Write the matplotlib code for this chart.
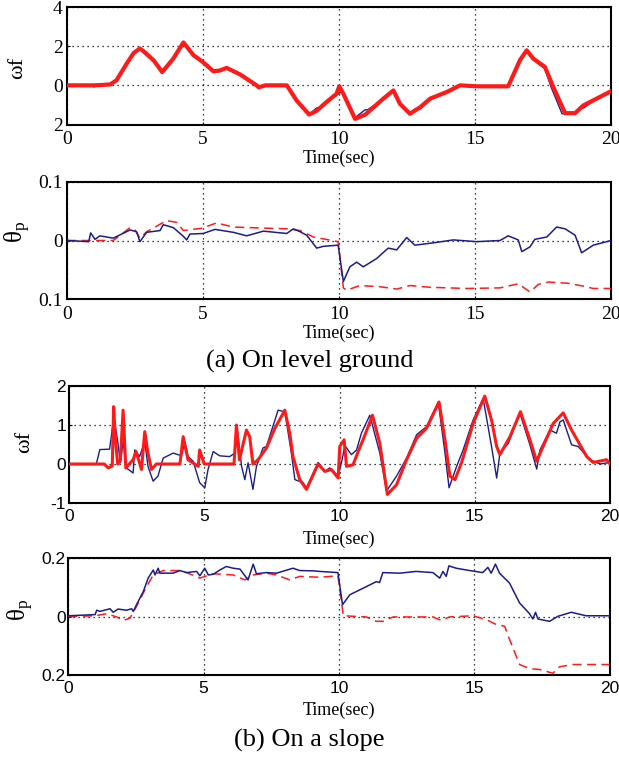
import matplotlib
matplotlib.use("Agg")
import matplotlib.pyplot as plt
from matplotlib.ticker import FixedLocator, FixedFormatter

# ---------------- data ----------------
# (a) level ground, omega_f
t1r = [0, 1.0, 1.3, 1.6, 1.82, 2.19, 2.45, 2.68, 2.9, 3.2, 3.5, 3.9, 4.28, 4.65, 4.99, 5.38, 5.6, 5.87, 6.36, 6.97, 7.05, 7.3, 8.08, 8.44, 8.9, 9.18, 9.5, 9.91, 10.01, 10.16, 10.59, 10.96, 11.63, 12.0, 12.24, 12.61, 13.0, 13.35, 13.96, 14.45, 15.06, 16.22, 16.65, 16.9, 17.14, 17.57, 17.88, 18.31, 18.68, 18.98, 19.47, 20.0]
v1r = [0, 0, 0.02, 0.05, 0.26, 1.1, 1.65, 1.88, 1.65, 1.25, 0.68, 1.35, 2.19, 1.54, 1.2, 0.72, 0.75, 0.89, 0.56, 0, -0.1, 0, 0, -0.77, -1.49, -1.3, -0.9, -0.43, -0.05, -0.43, -1.71, -1.5, -0.68, -0.26, -0.94, -1.45, -1.1, -0.68, -0.34, 0, -0.05, -0.05, 1.28, 1.79, 1.37, 0.94, -0.09, -1.42, -1.42, -1.03, -0.68, -0.3]
t1b = [0, 0.9, 1.0, 1.1, 1.3, 1.5, 1.82, 2.19, 2.45, 2.68, 2.9, 3.2, 3.5, 3.9, 4.28, 4.65, 4.99, 5.38, 5.6, 5.87, 6.36, 6.97, 7.05, 7.3, 8.08, 8.44, 8.9, 9.18, 9.3, 9.5, 9.91, 10.05, 10.2, 10.59, 10.96, 11.05, 11.63, 12.0, 12.24, 12.61, 12.8, 13.0, 13.35, 13.96, 14.45, 15.06, 16.22, 16.6, 16.9, 17.14, 17.57, 17.8, 18.2, 18.68, 18.85, 19.0, 19.47, 20.0]
v1b = [0, 0, -0.08, 0.05, 0.0, 0.03, 0.3, 1.15, 1.7, 1.85, 1.55, 1.2, 0.62, 1.3, 2.15, 1.5, 1.15, 0.7, 0.72, 0.85, 0.55, 0, -0.1, 0, 0, -0.85, -1.5, -1.15, -1.2, -0.95, -0.5, -0.35, -0.5, -1.65, -1.25, -1.25, -0.7, -0.3, -0.9, -1.45, -1.2, -1.2, -0.72, -0.35, 0.02, -0.05, -0.05, 1.2, 1.75, 1.3, 0.85, -0.1, -1.45, -1.45, -1.15, -1.15, -0.7, -0.3]

# (a) level ground, theta_p
t2b = [0, 0.8, 0.87, 1.03, 1.21, 1.7, 2.32, 2.56, 2.68, 2.93, 3.42, 3.54, 3.91, 4.28, 4.4, 4.52, 5.01, 5.44, 6.11, 6.61, 7.22, 8.08, 8.32, 8.57, 8.81, 9.18, 9.42, 9.97, 10.16, 10.4, 10.65, 10.89, 11.38, 11.81, 12.12, 12.49, 12.79, 13.47, 14.2, 15.06, 15.92, 16.22, 16.59, 16.72, 17.02, 17.2, 17.64, 18.0, 18.31, 18.68, 18.92, 19.35, 20.0]
v2b = [0, -0.002, 0.013, 0.002, 0.008, 0.004, 0.018, 0.015, -0.002, 0.014, 0.017, 0.027, 0.022, 0.007, 0.001, 0.011, 0.012, 0.019, 0.014, 0.008, 0.016, 0.012, 0.02, 0.015, 0.009, -0.013, -0.01, -0.008, -0.07, -0.045, -0.037, -0.045, -0.031, -0.013, -0.016, 0.005, -0.008, -0.004, 0.001, -0.002, 0, 0.008, 0.001, -0.019, -0.011, 0.002, 0.006, 0.023, 0.02, 0.009, -0.021, -0.008, 0.0]
t2r = [0, 1.7, 2.32, 2.5, 2.68, 2.93, 3.66, 4.03, 4.28, 4.96, 5.5, 6.11, 7.34, 8.08, 8.57, 9.06, 9.97, 10.16, 10.28, 10.77, 11.5, 12.12, 12.61, 13.35, 14.69, 15.92, 16.59, 17.02, 17.33, 17.7, 18.4, 18.98, 19.35, 20.0]
v2r = [0, 0, 0.022, 0.018, 0.004, 0.015, 0.034, 0.031, 0.017, 0.021, 0.03, 0.023, 0.021, 0.02, 0.017, 0.006, -0.002, -0.081, -0.085, -0.077, -0.079, -0.083, -0.077, -0.08, -0.082, -0.081, -0.074, -0.088, -0.075, -0.071, -0.073, -0.078, -0.082, -0.082]

# (b) slope, omega_f
t3b = [0, 1.01, 1.14, 1.5, 1.66, 1.81, 1.9, 2.0, 2.12, 2.37, 2.43, 2.61, 2.8, 2.92, 3.11, 3.29, 3.48, 3.85, 4.16, 4.28, 4.4, 4.59, 4.83, 5.02, 5.14, 5.33, 5.57, 5.94, 6.13, 6.21, 6.38, 6.5, 6.62, 6.8, 6.93, 7.17, 7.3, 7.73, 7.98, 8.22, 8.35, 8.65, 8.78, 9.21, 9.46, 9.64, 9.95, 10.07, 10.2, 10.44, 10.63, 10.81, 11.12, 11.49, 11.74, 12.11, 12.48, 12.85, 13.22, 13.65, 13.9, 14.05, 14.33, 14.57, 14.94, 15.31, 15.62, 15.81, 15.93, 16.24, 16.67, 17.04, 17.29, 17.41, 17.78, 18.02, 18.15, 18.27, 18.58, 18.82, 19.26, 19.63, 19.9, 20.0]
v3b = [0, 0, 0.37, 0.38, 1.21, 0.53, 0.03, 0.58, -0.1, -0.23, 0.36, 0.19, 0.58, -0.06, -0.44, -0.31, 0.15, 0.28, 0.21, 0.58, 0.19, 0.07, -0.48, -0.61, -0.14, 0.32, 0.21, 0.19, 0.28, 0.96, -0.06, -0.4, 0.03, -0.65, -0.06, 0.41, 0.45, 1.38, 1.34, 0.28, -0.4, -0.48, -0.61, 0.04, -0.19, -0.1, -0.31, 0.03, 0.47, 0.24, 0.36, 0.79, 1.25, 0.28, -0.69, -0.31, 0.15, 0.75, 0.96, 1.59, 0.28, -0.61, -0.06, 0.36, 1.13, 1.68, 0.45, -0.36, 0.28, 0.53, 1.3, 0.49, -0.13, 0.36, 0.87, 0.79, 1.08, 1.13, 0.49, 0.45, 0.11, 0, 0.03, 0]
t3r = [0, 1.3, 1.45, 1.6, 1.65, 1.72, 1.8, 1.9, 2.0, 2.1, 2.37, 2.48, 2.68, 2.8, 2.92, 3.05, 3.23, 3.6, 4.1, 4.22, 4.4, 4.78, 4.83, 5.0, 6.1, 6.19, 6.3, 6.56, 6.68, 6.8, 6.99, 7.3, 7.6, 7.98, 8.16, 8.28, 8.53, 8.78, 9.21, 9.46, 9.7, 9.95, 10.01, 10.17, 10.26, 10.5, 10.69, 10.87, 11.22, 11.49, 11.77, 12.11, 12.48, 12.85, 13.22, 13.68, 13.9, 14.08, 14.27, 14.51, 14.94, 15.37, 15.62, 15.81, 15.93, 16.3, 16.69, 17.04, 17.29, 17.47, 17.9, 18.27, 18.58, 19.14, 19.38, 19.87, 20.0]
v3r = [0, 0, -0.1, -0.05, 1.47, 0.6, 0.0, 0.1, 1.38, -0.1, 0.11, 0.32, -0.14, 0.83, 0.28, -0.14, 0, 0, 0, 0.7, 0.11, -0.06, 0.36, 0, 0, 1.0, 0.11, 0.87, 0.7, 0, 0.11, 0.41, 0.9, 1.38, 0.79, 0.19, -0.4, -0.65, 0, -0.19, -0.14, -0.36, 0.45, 0.62, -0.06, -0.02, 0.32, 0.62, 1.25, 0.53, -0.78, -0.53, 0.11, 0.66, 0.92, 1.59, 0.62, -0.31, -0.4, 0.03, 1.04, 1.74, 1.13, 0.45, 0.24, 0.7, 1.34, 0.62, 0.07, 0.36, 1.04, 1.31, 0.87, 0.19, 0.04, 0.11, 0]

# (b) slope, theta_p
t4b = [0, 0.99, 1.05, 1.17, 1.54, 1.66, 1.84, 2.15, 2.34, 2.4, 2.52, 2.77, 2.95, 3.14, 3.2, 3.32, 3.38, 3.87, 4.12, 4.37, 4.74, 4.86, 5.04, 5.17, 5.35, 5.6, 5.84, 6.09, 6.34, 6.64, 6.83, 6.95, 7.32, 7.69, 8.3, 8.55, 9.05, 9.29, 9.96, 10.13, 10.4, 11.01, 11.38, 11.5, 11.62, 12.24, 12.85, 13.47, 13.72, 13.84, 13.96, 14.06, 14.33, 14.7, 15.31, 15.5, 15.62, 15.78, 15.93, 16.3, 16.67, 17.04, 17.16, 17.26, 17.35, 17.78, 18.08, 18.58, 19.13, 20.0]
v4b = [0.003, 0.007, 0.022, 0.018, 0.027, 0.015, 0.026, 0.022, 0.027, 0.018, 0.041, 0.086, 0.132, 0.16, 0.143, 0.166, 0.149, 0.149, 0.158, 0.151, 0.155, 0.14, 0.166, 0.143, 0.145, 0.16, 0.172, 0.166, 0.163, 0.126, 0.18, 0.147, 0.151, 0.149, 0.166, 0.158, 0.157, 0.155, 0.151, 0.041, 0.075, 0.103, 0.12, 0.117, 0.151, 0.149, 0.155, 0.151, 0.132, 0.155, 0.138, 0.174, 0.166, 0.16, 0.151, 0.169, 0.149, 0.18, 0.149, 0.115, 0.047, 0.01, -0.008, 0.015, -0.008, -0.016, 0.001, 0.015, 0.003, 0.003]
t4r = [0, 0.99, 1.41, 1.79, 2.03, 2.28, 2.52, 2.89, 3.14, 3.51, 4.12, 4.37, 4.86, 5.35, 6.09, 6.52, 6.83, 7.32, 7.69, 8.18, 8.55, 9.29, 9.96, 10.05, 10.16, 11.01, 11.38, 11.62, 12.0, 13.47, 13.78, 14.08, 14.94, 15.44, 15.81, 16.12, 16.3, 16.67, 17.04, 17.41, 17.9, 18.14, 18.64, 20.0]
v4r = [0, 0.003, 0.01, -0.001, -0.013, -0.005, 0.035, 0.103, 0.143, 0.158, 0.158, 0.151, 0.132, 0.147, 0.143, 0.126, 0.143, 0.149, 0.143, 0.126, 0.138, 0.135, 0.14, 0.081, 0.003, -0.001, -0.016, -0.016, -0.001, -0.001, -0.013, -0.001, 0.003, -0.01, -0.027, -0.033, -0.078, -0.164, -0.178, -0.181, -0.194, -0.172, -0.164, -0.164]

xticks = [0, 5, 10, 15, 20]
xticklabels = ["0", "5", "10", "15", "20"]
yticks1 = [-2, 0, 2, 4]
yticklabels1 = ["2", "0", "2", "4"]
yticks2 = [-0.1, 0, 0.1]
yticklabels2 = ["0.1", "0", "0.1"]
yticks3 = [-1, 0, 1, 2]
yticklabels3 = ["-1", "0", "1", "2"]
yticks4 = [-0.2, 0, 0.2]
yticklabels4 = ["0.2", "0", "0.2"]
xlabel = "Time(sec)"
caption_a = "(a) On level ground"
caption_b = "(b) On a slope"

# ---------------- figure ----------------
W, H = 619, 758
fig = plt.figure(figsize=(W / 100, H / 100), dpi=100)
plt.rcParams["mathtext.fontset"] = "custom"
plt.rcParams["mathtext.rm"] = "Liberation Serif"
plt.rcParams["mathtext.it"] = "Liberation Serif:italic"

SERIF = "Liberation Serif"
SANS = "Liberation Sans"
BLUE = "#1c1c8c"
RED = "#ff1a1a"


def box(l, t, r, b):
    return [l / W, 1 - b / H, (r - l) / W, (b - t) / H]


def style(ax, yt, ytl, ylim, tickfont, fs, xpad, ypad):
    ax.set_xlim(0, 20)
    ax.set_ylim(*ylim)
    ax.xaxis.set_major_locator(FixedLocator(xticks))
    ax.xaxis.set_major_formatter(FixedFormatter(xticklabels))
    ax.yaxis.set_major_locator(FixedLocator(yt))
    ax.yaxis.set_major_formatter(FixedFormatter(ytl))
    ax.grid(True, color="black", linestyle=(0, (1, 3)), linewidth=0.9)
    ax.tick_params(direction="in", length=2, width=0.8, labelsize=fs)
    ax.tick_params(axis="x", pad=xpad)
    ax.tick_params(axis="y", pad=ypad)
    for lab in ax.get_xticklabels() + ax.get_yticklabels():
        lab.set_fontfamily(tickfont)
    for s in ax.spines.values():
        s.set_linewidth(1.5)


ax1 = fig.add_axes(box(67, 7, 611, 124.5))
ax1.plot(t1b, v1b, color=BLUE, lw=1.0, zorder=3)
ax1.plot(t1r, v1r, color=RED, lw=3.0, zorder=4)
style(ax1, yticks1, yticklabels1, (-2, 4), SERIF, 14, 5, 3)

ax2 = fig.add_axes(box(67, 182, 611, 299))
ax2.plot(t2r, v2r, color=RED, lw=1.1, linestyle=(0, (6, 3.5)), zorder=3)
ax2.plot(t2b, v2b, color=BLUE, lw=1.1, zorder=4)
style(ax2, yticks2, yticklabels2, (-0.1, 0.1), SERIF, 14, 5, 3)

ax3 = fig.add_axes(box(69, 386, 610, 503))
ax3.plot(t3b, v3b, color=BLUE, lw=1.0, zorder=3)
ax3.plot(t3r, v3r, color=RED, lw=2.2, zorder=4)
style(ax3, yticks3, yticklabels3, (-1, 2), SANS, 12.5, 4, 2)

ax4 = fig.add_axes(box(68.3, 558.3, 609.7, 675))
ax4.plot(t4r, v4r, color=RED, lw=1.1, linestyle=(0, (6, 3.5)), zorder=3)
ax4.plot(t4b, v4b, color=BLUE, lw=1.1, zorder=4)
style(ax4, yticks4, yticklabels4, (-0.2, 0.2), SANS, 12.5, 4, 2)

# axis labels
def ftext(x, y, s, **kw):
    fig.text(x / W, 1 - y / H, s, ha="center", va="center", **kw)

ftext(339, 158, xlabel, family=SERIF, fontsize=13)
ftext(339, 333, xlabel, family=SERIF, fontsize=13)
ftext(339, 539, xlabel, family=SERIF, fontsize=13)
ftext(339, 710, xlabel, family=SERIF, fontsize=13)
ftext(309.5, 361, caption_a, family=SERIF, fontsize=19)
ftext(309.5, 740, caption_b, family=SERIF, fontsize=19)

ftext(18, 68, "ωf", family=SERIF, fontsize=16, rotation=90)
ftext(18, 232, r"θ$_\mathrm{p}$", family=SERIF, fontsize=18, rotation=90)
ftext(25, 442, "ωf", family=SERIF, fontsize=16, rotation=90)
ftext(21, 610, r"θ$_\mathrm{p}$", family=SERIF, fontsize=18, rotation=90)

fig.savefig("out.png", dpi=100)
